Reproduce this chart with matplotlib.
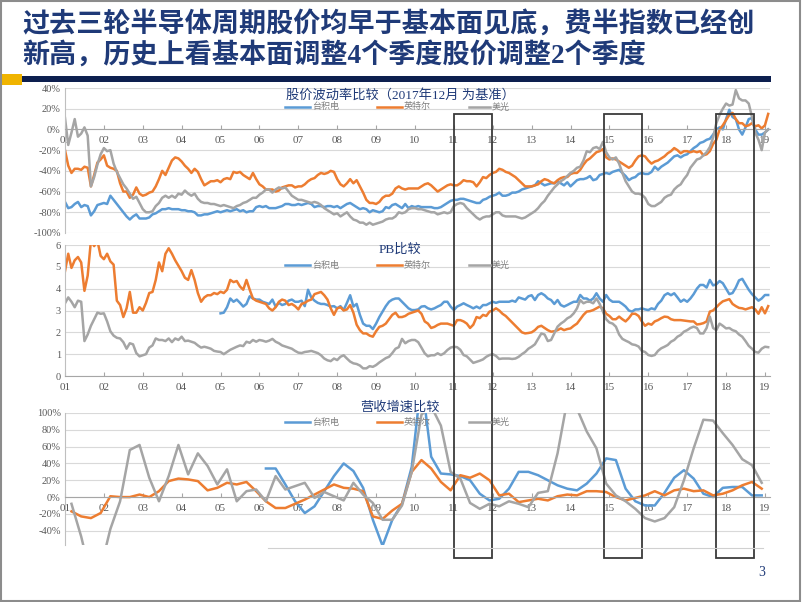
import numpy as np
import matplotlib
matplotlib.use("Agg")
import matplotlib.pyplot as plt
from matplotlib.lines import Line2D
from matplotlib.patches import Rectangle
from matplotlib.transforms import blended_transform_factory

plt.rcParams["font.family"] = ["Liberation Serif", "Noto Sans CJK SC"]

# ---- data (monthly from Jan of start year, quarterly revenue growth) ----
names = ["台积电", "英特尔", "美光"]
colors = ["#5b9bd5", "#ed7d31", "#a5a5a5"]

# stock price vs Dec 2017, %, monthly 2001-01 .. 2019-02
tsmc_px = [
    -70, -76, -75, -72, -70, -75, -73, -74, -83, -79, -73, -72,
    -71, -72, -64, -68, -72, -76, -80, -84, -87, -84, -82, -86,
    -86, -86, -85, -82, -81, -79, -77, -77, -76, -77, -77, -77,
    -78, -78, -79, -79, -80, -83, -83, -82, -82, -81, -80, -79,
    -80, -79, -78, -79, -78, -77, -79, -78, -80, -79, -79, -75,
    -74, -75, -74, -76, -76, -76, -75, -74, -72, -72, -73, -73,
    -72, -73, -72, -71, -72, -75, -74, -74, -75, -74, -74, -75,
    -74, -76, -74, -72, -71, -73, -75, -77, -76, -77, -80, -78,
    -79, -80, -79, -75, -76, -73, -72, -74, -76, -72, -76, -74,
    -75, -74, -75, -75, -75, -75, -76, -76, -75, -73, -71, -69,
    -68, -68, -67, -67, -68, -69, -70, -71, -71, -68, -67, -65,
    -64, -63, -61, -64, -64, -63, -61, -61, -60, -58, -57, -56,
    -55, -54, -50, -52, -54, -53, -52, -52, -50, -52, -54, -51,
    -55, -52, -49, -48, -48, -47, -45, -49, -48, -44, -43, -42,
    -43, -41, -40, -39, -42, -45, -49, -47, -46, -43, -42, -43,
    -43, -41, -36, -39, -36, -34, -32, -29, -26, -25, -27, -25,
    -24, -21, -18, -16, -13, -12, -10, -9, -5, 0, 2, 0,
    10, 19, 12, 10, 0, -5, 2, 10, 11, 0, -5, -5,
    -3, 0,
]
intel_px = [
    -20, -35, -42, -38, -38, -39, -36, -37, -55, -44, -32, -29,
    -25, -35, -37, -38, -40, -52, -60, -60, -66, -63, -56, -62,
    -64, -63, -61, -60, -55, -48, -40, -44, -37, -30, -27, -28,
    -31, -35, -38, -42, -38, -41, -48, -54, -52, -50, -50, -49,
    -51, -48, -47, -48, -41, -42, -41, -44, -46, -48, -42, -48,
    -53, -55, -58, -58, -58, -60, -59, -56, -55, -54, -54, -56,
    -55, -55, -53, -50, -48, -47, -44, -42, -43, -42, -40, -41,
    -48, -53, -55, -52, -48, -52, -49, -55, -61, -68, -71, -71,
    -72, -70, -66, -64, -64, -62, -57, -55, -57, -58, -57, -57,
    -57, -57, -55, -53, -52, -54, -57, -60, -58, -56, -54, -53,
    -54, -54, -52, -49, -50, -50, -51, -55, -51, -46, -47, -44,
    -42, -41, -38, -39, -41, -42, -44, -46, -49, -52, -55, -55,
    -55, -54, -53, -50, -48, -49, -51, -52, -49, -47, -46, -46,
    -43, -42, -42, -39, -34, -30, -28, -25, -22, -21, -19, -27,
    -29, -28, -29, -31, -33, -35, -37, -35, -30, -26, -25, -26,
    -30, -33, -31, -30, -28, -26, -23, -21, -18, -20, -23, -21,
    -21, -22, -21, -22, -21, -25, -24, -21, -14, -10, 0, 4,
    9, 14, 16, 10, 6, 6, 3, 4, 6, 3, 4, 1,
    4, 15,
]
micron_px = [
    11, -15, -3, 10, -7, -4, 2, -6, -55, -46, -34, -24,
    -18, -21, -20, -33, -41, -47, -53, -57, -62, -67, -65, -71,
    -77, -80, -80, -79, -74, -71, -66, -64, -66, -64, -66, -62,
    -63, -59, -62, -64, -62, -67, -70, -71, -71, -72, -72, -73,
    -74, -73, -74, -75, -76, -74, -73, -71, -70, -68, -66, -66,
    -63, -61, -58, -58, -61, -58, -56, -57, -56, -60, -64, -66,
    -68, -68, -69, -70, -71, -70, -71, -73, -76, -78, -80, -82,
    -81, -84, -82, -80, -84, -87, -88, -90, -90, -92, -90, -92,
    -91, -90, -89, -87, -86, -86, -84, -80, -81, -80, -77, -76,
    -76, -77, -77, -78, -79, -80, -80, -82, -81, -80, -81, -80,
    -74, -72, -71, -72, -76, -79, -82, -85, -87, -85, -84, -84,
    -82, -80, -80, -83, -84, -84, -84, -84, -85, -86, -85, -83,
    -81, -79, -76, -72, -69, -64, -60, -56, -53, -50, -48, -45,
    -42, -40, -37, -36, -30, -21, -22, -18, -17, -19, -12, -22,
    -27, -29, -27, -33, -42, -50, -55, -60, -62, -62, -63, -66,
    -72, -74, -74, -72, -70, -66, -64, -63, -58, -55, -53, -48,
    -44, -37, -33, -29, -28, -25, -22, -17, -8, 6, 14, 20,
    25, 23, 24, 38, 30, 28, 28, 25, 12, -3, -10, -20,
    -3, 0,
]

# PB, monthly; TSMC from 2005-01, others from 2001-01
tsmc_pb = [
    2.87, 2.9, 3.15, 3.55, 3.4, 3.5, 3.35, 3.18, 3.3, 3.65, 3.55, 3.5,
    3.5, 3.4, 3.35, 3.3, 3.5, 3.18, 3.35, 3.25, 3.3, 3.45, 3.5, 3.4,
    3.4, 3.45, 3.2, 3.95, 3.6, 3.45, 3.35, 3.3, 3.3, 3.25, 3.18, 3.2,
    3.1, 3.2, 3.02, 3.35, 3.7, 3.18, 3.3, 2.8, 2.4, 2.3, 2.3, 2.15,
    2.4, 2.7, 2.95, 3.2, 3.4, 3.5, 3.55, 3.55, 3.4, 3.25, 3.1, 3.02,
    3.02, 3.05, 3.18, 3.2, 3.1, 3.05, 3.1, 3.18, 3.25, 3.4, 3.4, 3.18,
    3.02, 3.18, 3.25, 3.33, 3.25, 3.18, 3.1, 3.18, 3.1, 3.25, 3.25, 3.33,
    3.4, 3.35, 3.4, 3.4, 3.4, 3.4, 3.45, 3.4, 3.6, 3.55, 3.5, 3.65,
    3.7, 3.48, 3.71, 3.79, 3.7, 3.55, 3.48, 3.3, 3.48, 3.25, 3.18, 3.25,
    3.33, 3.4, 3.4, 3.71, 3.55, 3.55, 3.45, 3.55, 3.79, 3.55, 3.4, 3.71,
    3.5, 3.4, 3.4, 3.4, 3.3, 3.18, 3.0, 2.95, 3.05, 3.05, 3.1, 3.05,
    3.02, 3.1, 3.05, 3.3, 3.45, 3.7, 3.79, 3.7, 3.79, 3.6, 3.4, 3.5,
    3.4, 3.55, 3.75, 4.0, 4.17, 4.17, 4.05, 4.4, 4.15, 4.2, 4.35, 4.25,
    4.0, 3.75, 3.8, 4.05, 4.38, 4.45, 4.2, 3.95, 3.75, 3.6, 3.45, 3.55,
    3.71, 3.71,
]
intel_pb = [
    4.8, 5.6, 4.95, 5.3, 5.45, 5.2, 3.9, 4.6, 6.2, 5.95, 6.2, 5.5,
    5.35, 5.6, 5.25, 5.1, 3.45, 3.25, 2.7, 3.1, 3.85, 2.9, 2.9, 3.15,
    3.0, 3.35, 3.8, 3.85, 4.4, 5.2, 4.8, 5.6, 5.85, 5.6, 5.3, 5.05,
    4.8, 4.5, 4.4, 4.85, 4.4, 3.8, 3.4, 3.6, 3.7, 3.7, 3.8, 3.75,
    3.86, 3.8, 3.95, 4.4, 4.3, 4.35, 4.1, 3.95, 4.4, 3.95, 3.55, 3.45,
    3.4, 3.35, 3.3, 3.1, 3.0, 3.15, 3.4, 3.5, 3.45, 3.25, 3.3, 3.2,
    3.05, 3.3, 3.35, 3.45, 3.5, 3.75, 3.8, 3.85, 3.7, 3.5, 3.1, 2.8,
    3.1, 3.15, 3.0, 3.05, 3.25, 2.9, 2.35, 2.1, 1.95, 1.95, 1.85, 1.8,
    2.05, 2.25, 2.3, 2.4, 2.6, 2.8, 2.9, 2.7, 2.7, 2.75, 2.85, 2.9,
    2.95, 3.0, 2.85, 2.5, 2.4, 2.2, 2.25, 2.34, 2.4, 2.4, 2.4, 2.35,
    2.3, 2.56, 2.56, 2.5, 2.4, 2.2, 2.35, 2.7, 2.65, 2.8, 2.75, 2.95,
    3.0, 3.1, 3.0, 2.85, 2.75, 2.6, 2.45, 2.3, 2.15, 2.0, 1.95, 1.97,
    2.0, 2.1, 2.25, 2.3, 2.2, 2.1, 2.03, 2.05, 2.1, 2.18, 2.1, 2.15,
    2.18, 2.3, 2.4, 2.6, 2.8, 2.95, 2.97, 3.02, 3.1, 3.18, 3.1, 2.85,
    2.75, 2.6, 2.6, 2.72, 2.6, 2.5, 2.65, 2.85, 2.85, 2.75, 2.5, 2.3,
    2.4, 2.35, 2.5, 2.56, 2.65, 2.72, 2.7, 2.6, 2.56, 2.56, 2.56, 2.54,
    2.52, 2.5, 2.5, 2.36, 2.38, 2.42, 2.5, 2.95, 3.0, 3.15, 3.3, 3.42,
    3.47, 3.52, 3.3, 3.2, 3.12, 3.1, 3.05, 3.1, 3.15, 3.05, 2.85, 3.15,
    2.87, 3.2,
]
micron_pb = [
    3.33, 3.6, 3.4, 3.15, 3.45, 3.4, 1.6, 1.9, 2.3, 2.6, 2.9, 2.85,
    2.87, 2.5, 2.05, 1.85, 1.75, 1.72, 1.55, 1.25, 1.5, 1.45, 1.05, 0.9,
    0.95, 1.0, 1.3, 1.4, 1.72, 1.65, 1.65, 1.6, 1.72, 1.55, 1.72, 1.65,
    1.8, 1.6, 1.62, 1.57, 1.52, 1.4, 1.3, 1.34, 1.3, 1.25, 1.15, 1.12,
    1.1, 1.0, 1.1, 1.2, 1.27, 1.34, 1.4, 1.37, 1.57, 1.52, 1.65, 1.57,
    1.65, 1.62, 1.57, 1.62, 1.7, 1.57, 1.5, 1.4, 1.35, 1.3, 1.25, 1.15,
    1.07, 1.05, 1.1, 1.12, 1.15, 1.1, 1.05, 0.95, 0.8, 0.72, 0.68, 0.8,
    0.73, 0.88, 0.95, 0.8, 0.66, 0.58, 0.55, 0.48, 0.35, 0.35, 0.45, 0.42,
    0.5, 0.62, 0.72, 0.82, 0.88, 1.05, 1.25, 1.32, 1.7, 1.5, 1.6, 1.65,
    1.65, 1.55, 1.3, 1.04, 0.9, 0.95, 0.95, 1.04, 0.96, 1.04, 1.19, 1.3,
    1.34, 1.32, 1.2, 0.96, 0.9, 0.75, 0.6, 0.65, 0.7, 0.76, 0.88, 0.96,
    1.0, 0.92, 0.78, 0.8, 0.8, 0.8, 0.78, 0.8, 0.88, 1.0, 1.1, 1.25,
    1.34, 1.45, 1.7, 1.95, 1.9, 1.6, 1.65, 1.95, 2.26, 2.4, 2.5, 2.64,
    2.72, 2.87, 3.1, 3.48, 3.33, 3.4, 3.4, 3.33, 3.55, 3.3, 2.95, 2.6,
    2.45, 2.4, 2.26, 1.9, 1.7, 1.62, 1.55, 1.45, 1.42, 1.35, 1.15, 1.1,
    0.96, 0.92, 0.96, 1.15, 1.27, 1.34, 1.42, 1.57, 1.65, 1.8, 1.88, 2.03,
    2.1, 2.2, 2.26, 2.2, 1.95, 1.95, 2.2, 2.72, 2.2, 2.1, 2.4, 2.3,
    2.18, 2.2, 2.1, 2.05, 1.9, 1.8, 1.6, 1.38, 1.25, 1.1, 1.07, 1.25,
    1.34, 1.32,
]

# revenue growth yoy, %, quarterly 2001Q1 .. 2018Q4 (TSMC from 2006Q1)
tsmc_rev = [
    34, 34, 15, -5, -19, -11, 7, 25, 40, 31,
    11, -27, -58, -27, -8, 36, 140, 48, 28, 27,
    25, 20, 4, -4, -2, 10, 30, 30, 26, 20,
    14, 10, 8, 16, 28, 46, 44, 10, -5, -10,
    -10, 5, 23, 32, 22, 4, 0, 11, 12, 12,
    2, 2,
]
intel_rev = [
    -17, -23, -25, -19, 1, 0, 0, 3, 0, 7,
    19, 22, 21, 19, 8, 11, 17, 15, 18, 7,
    -5, -13, -13, -8, -3, 3, 9, 15, 11, 10,
    7, -23, -26, -16, -8, 30, 44, 34, 18, 8,
    26, 23, 28, 20, 2, 4, -6, -4, -2, -4,
    1, 3, 2, 7, 7, 6, 0, -4, -1, 2,
    7, 2, 8, 10, 7, 8, 2, 4, 8, 14,
    18, 10,
]
micron_rev = [
    -8, -47, -95, -85, -38, -5, 56, 62, 23, -5,
    25, 62, 27, 52, 37, 15, 33, -5, 7, 9,
    -5, 25, 9, 13, 17, -1, 6, 1, -4, 17,
    3, -7, -27, -27, -10, 30, 98, 108, 85, 30,
    22, -7, -14, -8, -11, -5, -8, -12, 5, 7,
    52, 115, 105, 78, 58, 16, 2, -5, -14, -25,
    -29, -25, -12, 20, 58, 92, 91, 76, 62, 45,
    38, 17,
]

years = list(range(2001, 2020))
year_labels = [f"{y % 100:02d}" for y in years]
highlights = [(2011.0, 2011.98), (2014.86, 2015.84), (2017.74, 2018.72)]

W, H = 802, 602
NAVY = "#1f3a78"
fig = plt.figure(figsize=(W / 100, H / 100), dpi=100)


def fx(x):
    return x / W


def fy(y):
    return 1 - y / H


def monthly(start, vals):
    return start + np.arange(len(vals)) / 12


def quarterly(start, vals):
    return start + (3 * np.arange(len(vals)) + 2) / 12


def make_ax(top, bottom, ylim, yticks, fmt):
    ax = fig.add_axes([fx(65), fy(bottom), fx(770) - fx(65), fy(top) - fy(bottom)])
    ax.set_xlim(2001, 2019.13)
    ax.set_ylim(*ylim)
    ax.set_yticks(yticks)
    ax.set_yticklabels([fmt(v) for v in yticks])
    ax.set_xticks(years)
    ax.set_xticklabels(year_labels)
    for s in ["top", "right"]:
        ax.spines[s].set_visible(False)
    ax.spines["left"].set_color("#bfbfbf")
    ax.spines["bottom"].set_color("#a6a6a6")
    ax.spines["bottom"].set_position(("data", 0))
    ax.grid(axis="y", color="#d9d9d9", lw=0.8)
    ax.set_axisbelow(True)
    ax.tick_params(axis="y", length=0, pad=3, labelsize=7.5, labelcolor="#595959")
    ax.tick_params(axis="x", direction="in", length=3, color="#a6a6a6", pad=5,
                   labelsize=8, labelcolor="#595959")
    ax.patch.set_alpha(0)
    return ax


pct = lambda v: f"{v}%"

# panel 1: stock price
ax1 = make_ax(88, 233, (-100, 40), list(range(40, -101, -20)), pct)
for vals, c in zip([tsmc_px, intel_px, micron_px], colors):
    ax1.plot(monthly(2001, vals), vals, color=c, lw=1.8)

# panel 2: PB
ax2 = make_ax(245, 376, (0, 6), list(range(0, 7)), lambda v: str(v))
ax2.plot(monthly(2005, tsmc_pb), tsmc_pb, color=colors[0], lw=1.8)
ax2.plot(monthly(2001, intel_pb), intel_pb, color=colors[1], lw=1.8)
ax2.plot(monthly(2001, micron_pb), micron_pb, color=colors[2], lw=1.8)

# panel 3: revenue growth
ax3 = make_ax(413, 545, (-57, 100), list(range(-40, 101, 20)), pct)
ax3.plot(quarterly(2006, tsmc_rev), tsmc_rev, color=colors[0], lw=1.8)
ax3.plot(quarterly(2001, intel_rev), intel_rev, color=colors[1], lw=1.8)
ax3.plot(quarterly(2001, micron_rev), micron_rev, color=colors[2], lw=1.8)

# panel titles and legends
panel_titles = ["股价波动率比较（2017年12月 为基准）", "PB比较", "营收增速比较"]
for title, ty, ly in zip(panel_titles, [95, 250, 408], [107, 265, 422]):
    fig.text(fx(400), fy(ty), title, ha="center", va="center", fontsize=9.5, color=NAVY)
    for (x0, x1), name, c in zip([(285, 310), (377, 402), (469, 490)], names, colors):
        fig.add_artist(Line2D([fx(x0), fx(x1)], [fy(ly), fy(ly)], color=c, lw=1.8))
        fig.text(fx(x1 + 2), fy(ly), name, ha="left", va="center", fontsize=6.5, color="#7f7f7f")

# highlight boxes spanning all panels
tr = blended_transform_factory(ax1.transData, fig.transFigure)
for x0, x1 in highlights:
    fig.add_artist(Rectangle((x0, fy(558)), x1 - x0, fy(114) - fy(558), transform=tr,
                             fill=False, ec="#3a3a3a", lw=1.3))

# slide decoration
fig.text(fx(22), fy(25), "过去三轮半导体周期股价均早于基本面见底，费半指数已经创",
         fontsize=19.5, weight="bold", color=NAVY, va="center")
fig.text(fx(22), fy(55), "新高，历史上看基本面调整4个季度股价调整2个季度",
         fontsize=19.5, weight="bold", color=NAVY, va="center")
fig.add_artist(Rectangle((fx(22), fy(82)), fx(771) - fx(22), fy(76) - fy(82),
                         transform=fig.transFigure, color="#0d1f4f", lw=0))
fig.add_artist(Rectangle((fx(2), fy(85)), fx(22) - fx(2), fy(74) - fy(85),
                         transform=fig.transFigure, color="#f0b400", lw=0))
fig.add_artist(Line2D([fx(268), fx(763)], [fy(548), fy(548)], color="#d0d0d0", lw=0.8))
fig.add_artist(Rectangle((0.001, 0.001), 0.997, 0.997, transform=fig.transFigure,
                         fill=False, ec="#8c8c8c", lw=1.5))
fig.text(fx(762), fy(572), "3", fontsize=10, color=NAVY, ha="center", va="center")

fig.savefig("out.png", dpi=100)
